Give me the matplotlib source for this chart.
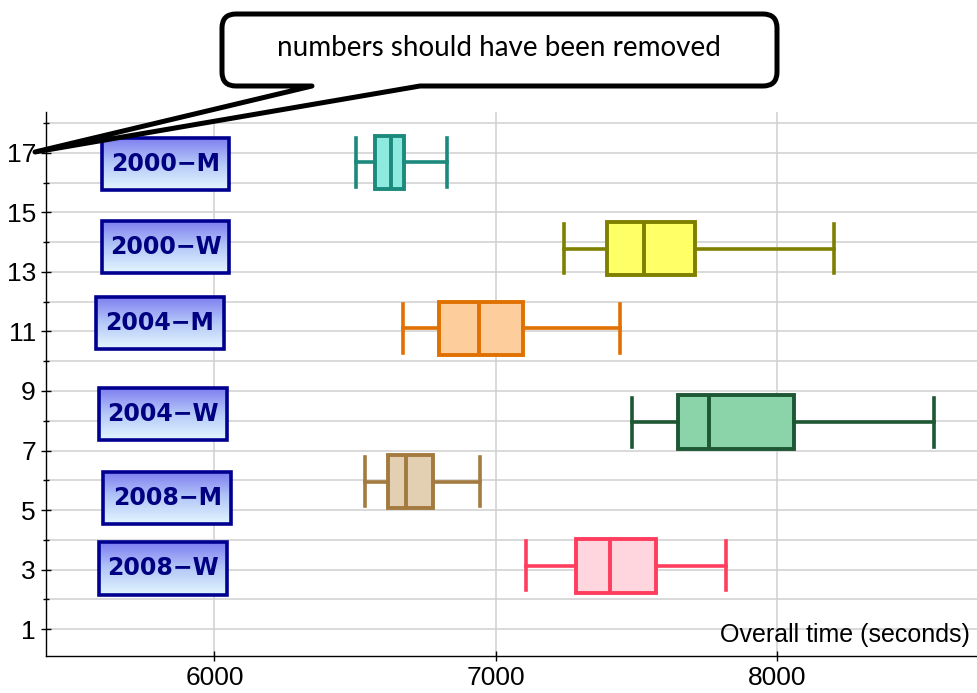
import numpy as np
import matplotlib.pyplot as plt
from matplotlib.path import Path
from matplotlib.patches import PathPatch, Rectangle
from matplotlib.colors import LinearSegmentedColormap

# five-number summaries (seconds)
groups = ["2000-M", "2000-W", "2004-M", "2004-W", "2008-M", "2008-W"]
whis_lo = [6505, 7242, 6669, 7485, 6534, 7109]
q1 = [6570, 7396, 6800, 7647, 6617, 7286]
median = [6629, 7526, 6942, 7757, 6681, 7408]
q3 = [6673, 7707, 7096, 8059, 6777, 7570]
whis_hi = [6827, 8202, 7443, 8557, 6943, 7819]
positions = [16.68, 13.78, 11.1, 7.95, 5.96, 3.13]

edge_colors = ["#1b8a7c", "#808000", "#e07000", "#1d5733", "#a37a3f", "#ff3d5e"]
face_colors = ["#8ee9de", "#ffff66", "#fdcd9b", "#8bd3a8", "#e3d0b3", "#ffd6de"]

# label boxes (centre x, centre y in data units)
label_x = [5826, 5826, 5805, 5817, 5832, 5817]
label_y = [16.62, 13.84, 11.27, 8.23, 5.41, 3.04]
label_w, label_h = 455, 1.75

fig = plt.figure(figsize=(9.78, 6.93), dpi=100)
ax = fig.add_axes([0.0467, 0.0534, 0.952, 0.785])

stats = []
for i in range(len(groups)):
    stats.append(dict(whislo=whis_lo[i], q1=q1[i], med=median[i], q3=q3[i],
                      whishi=whis_hi[i], label=groups[i]))

bp = ax.bxp(stats, positions=positions, widths=1.8, capwidths=1.65,
            orientation="horizontal", patch_artist=True, showfliers=False,
            manage_ticks=False)
for i in range(len(groups)):
    ec = edge_colors[i]
    bp["boxes"][i].set(facecolor=face_colors[i], edgecolor=ec, linewidth=2.8, zorder=3)
    bp["medians"][i].set(color=ec, linewidth=2.8, zorder=4)
    for art in bp["whiskers"][2 * i:2 * i + 2] + bp["caps"][2 * i:2 * i + 2]:
        art.set(color=ec, linewidth=2.6, zorder=3)

# gradient label boxes
cmap = LinearSegmentedColormap.from_list("lbl", ["#7d7df0", "#b4c8f8", "#e2f6ff"])
grad = np.linspace(0, 1, 64).reshape(-1, 1)
for i in range(len(groups)):
    x0 = label_x[i] - label_w / 2
    y0 = label_y[i] - label_h / 2
    ax.imshow(grad, cmap=cmap, aspect="auto", origin="upper",
              extent=[x0, x0 + label_w, y0, y0 + label_h], zorder=5)
    ax.add_patch(Rectangle((x0, y0), label_w, label_h, fill=False,
                           edgecolor="#000090", linewidth=2.6, zorder=6))
    ax.text(label_x[i], label_y[i], groups[i].replace("-", "\u2212"),
            ha="center", va="center", fontsize=17, fontweight="bold",
            color="#000080", family="DejaVu Sans", zorder=7)

ax.set_xlim(5400, 8710)
ax.set_ylim(0.1, 18.37)
ax.set_xticks([6000, 7000, 8000])
ax.set_yticks(np.arange(1, 18, 2))
ax.set_yticks(np.arange(2, 19, 2), minor=True)
ax.grid(True, which="both", axis="y", color="#cfcfcf", linewidth=1.1, zorder=0)
ax.grid(True, which="major", axis="x", color="#cfcfcf", linewidth=1.1, zorder=0)
ax.set_axisbelow(True)
for s in ["top", "right"]:
    ax.spines[s].set_visible(False)
for s in ["left", "bottom"]:
    ax.spines[s].set_linewidth(1.0)
ax.tick_params(which="major", direction="inout", length=7, width=1,
               labelsize=19)
ax.tick_params(which="minor", direction="inout", length=4, width=1)
for lbl in ax.get_xticklabels() + ax.get_yticklabels():
    lbl.set_family("Liberation Sans")

ax.text(0.993, 0.026, "Overall time (seconds)", transform=ax.transAxes,
        ha="right", va="baseline", fontsize=18, family="Liberation Sans")

# callout bubble drawn in figure pixels
W, H = 978.0, 693.0


def px(x, y):
    return (x / W, 1 - y / H)


bx0, bx1, by0, by1, r = 222, 777, 14, 86, 14
tip = (35, 152)
verts = [px(bx0 + r, by0), px(bx1 - r, by0),
         px(bx1, by0), px(bx1, by0 + r),
         px(bx1, by1 - r),
         px(bx1, by1), px(bx1 - r, by1),
         px(420, by1), px(*tip), px(312, by1),
         px(bx0 + r, by1),
         px(bx0, by1), px(bx0, by1 - r),
         px(bx0, by0 + r),
         px(bx0, by0), px(bx0 + r, by0),
         px(bx0 + r, by0)]
codes = [Path.MOVETO, Path.LINETO,
         Path.CURVE3, Path.CURVE3,
         Path.LINETO,
         Path.CURVE3, Path.CURVE3,
         Path.LINETO, Path.LINETO, Path.LINETO,
         Path.LINETO,
         Path.CURVE3, Path.CURVE3,
         Path.LINETO,
         Path.CURVE3, Path.CURVE3,
         Path.CLOSEPOLY]
bubble = PathPatch(Path(verts, codes), facecolor="white", edgecolor="black",
                   linewidth=3.6, joinstyle="round", transform=fig.transFigure,
                   clip_on=False, zorder=10)
fig.add_artist(bubble)
fig.text(499 / W, 1 - 48 / H, "numbers should have been removed",
         ha="center", va="center", fontsize=20, family="Lato", zorder=11)

fig.savefig("out.png", dpi=100)
